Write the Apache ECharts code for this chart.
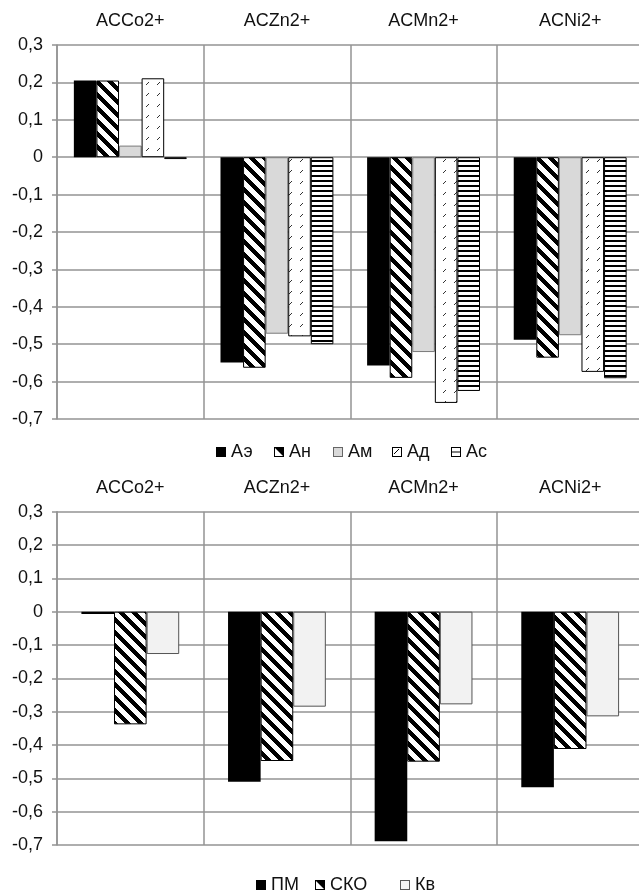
<!DOCTYPE html>
<html>
<head>
<meta charset="utf-8">
<script src="https://cdn.jsdelivr.net/npm/echarts@6/dist/echarts.min.js"></script>
<style>
html,body{margin:0;padding:0;background:#fff;overflow:hidden;}
#c{width:644px;height:894px;}
</style>
</head>
<body>
<div id="c"></div>
<script>
// ---- data ----
var categories = ['ACCo2+', 'ACZn2+', 'ACMn2+', 'ACNi2+'];
var topNames = ['Аэ', 'Ан', 'Ам', 'Ад', 'Ас'];
var aE = [0.205, -0.549, -0.557, -0.488];
var aN = [0.205, -0.563, -0.590, -0.536];
var aM = [0.031, -0.472, -0.521, -0.476];
var aD = [0.211, -0.479, -0.657, -0.574];
var aS = [-0.005, -0.500, -0.625, -0.591];
var bottomNames = ['ПМ', 'СКО', 'Кв'];
var pm = [-0.007, -0.510, -0.689, -0.527];
var sko = [-0.338, -0.448, -0.450, -0.412];
var kv = [-0.127, -0.285, -0.278, -0.314];
var yMin = -0.7, yMax = 0.3, yStep = 0.1;

// ---- patterns ----
function tile(w, h, fn) {
  var c = document.createElement('canvas');
  c.width = w; c.height = h;
  fn(c.getContext('2d'), w, h);
  return c;
}
function pixTile(w, h, test) {
  return tile(w, h, function (ctx) {
    var img = ctx.createImageData(w, h);
    for (var y = 0; y < h; y++) for (var x = 0; x < w; x++) {
      var i = (y * w + x) * 4, b = test(x, y);
      img.data[i] = img.data[i + 1] = img.data[i + 2] = b ? 0 : 255;
      img.data[i + 3] = 255;
    }
    ctx.putImageData(img, 0, 0);
  });
}
var T = 13;
var diagTile = pixTile(T, T, function (x, y) { return (((x - y) % T) + T) % T < 6; });
var hTile = pixTile(4, 5, function (x, y) { return y < 2; });
var dashTile = tile(11, 11, function (ctx) {
  ctx.fillStyle = '#fff'; ctx.fillRect(0, 0, 11, 11);
  ctx.strokeStyle = '#333'; ctx.lineWidth = 1;
  ctx.beginPath(); ctx.moveTo(3, 8); ctx.lineTo(6, 5); ctx.stroke();
});
function pat(c) { return { image: c, repeat: 'repeat' }; }

// ---- legend icons ----
function icon(fn) {
  var c = tile(10, 10, function (ctx) { fn(ctx); });
  return 'image://' + c.toDataURL();
}
var icBlack = icon(function (ctx) { ctx.fillStyle = '#000'; ctx.fillRect(0, 0, 10, 10); });
var icDiag = icon(function (ctx) {
  ctx.fillStyle = '#fff'; ctx.fillRect(0, 0, 10, 10);
  ctx.fillStyle = '#000';
  ctx.beginPath(); ctx.moveTo(1, 1); ctx.lineTo(9, 1); ctx.lineTo(9, 9); ctx.closePath(); ctx.fill();
  ctx.strokeStyle = '#000'; ctx.lineWidth = 1; ctx.strokeRect(0.5, 0.5, 9, 9);
});
var icGray = icon(function (ctx) {
  ctx.fillStyle = '#d9d9d9'; ctx.fillRect(0, 0, 10, 10);
  ctx.strokeStyle = '#666'; ctx.lineWidth = 1; ctx.strokeRect(0.5, 0.5, 9, 9);
});
var icDash = icon(function (ctx) {
  ctx.fillStyle = '#fff'; ctx.fillRect(0, 0, 10, 10);
  ctx.strokeStyle = '#000'; ctx.lineWidth = 1; ctx.strokeRect(0.5, 0.5, 9, 9);
  ctx.beginPath(); ctx.moveTo(2, 7); ctx.lineTo(7, 2); ctx.stroke();
});
var icH = icon(function (ctx) {
  ctx.fillStyle = '#fff'; ctx.fillRect(0, 0, 10, 10);
  ctx.strokeStyle = '#000'; ctx.lineWidth = 1; ctx.strokeRect(0.5, 0.5, 9, 9);
  ctx.beginPath(); ctx.moveTo(1, 5); ctx.lineTo(9, 5); ctx.stroke();
});
var icLight = icon(function (ctx) {
  ctx.fillStyle = '#f2f2f2'; ctx.fillRect(0, 0, 10, 10);
  ctx.strokeStyle = '#555'; ctx.lineWidth = 1; ctx.strokeRect(0.5, 0.5, 9, 9);
});

var FONT = '"Liberation Sans", Arial, sans-serif';
var GRID = '#939393';

function fmt(v) {
  var r = Math.round(v * 10) / 10;
  return r === 0 ? '0' : r.toFixed(1).replace('.', ',');
}
function xAx(gi) {
  return {
    type: 'category', gridIndex: gi, data: categories, position: 'top',
    axisLine: { show: false, onZero: false }, axisTick: { show: false },
    axisLabel: { color: '#111', fontSize: 18, fontFamily: FONT, margin: 15 },
    splitLine: { show: true, lineStyle: { color: GRID, width: 1.5 } }
  };
}
function yAx(gi) {
  return {
    type: 'value', gridIndex: gi, min: yMin, max: yMax, interval: yStep,
    axisLine: { show: true, lineStyle: { color: GRID, width: 1.5 } },
    axisTick: { show: true, length: 5, lineStyle: { color: GRID, width: 1.5 } },
    axisLabel: { color: '#111', fontSize: 18, fontFamily: FONT, margin: 14, formatter: fmt },
    splitLine: { show: true, lineStyle: { color: GRID, width: 1.5 } }
  };
}
function bar(name, data, gi, fill, border, gap) {
  return {
    type: 'bar', name: name, data: data, xAxisIndex: gi, yAxisIndex: gi,
    barGap: '0%', barCategoryGap: gap, animation: false,
    itemStyle: { color: fill, borderColor: border, borderWidth: border ? 1 : 0 },
    emphasis: { disabled: true }
  };
}
function leg(name, ic, left, top) {
  return {
    data: [{ name: name, icon: ic }], left: left, top: top, padding: 0,
    itemWidth: 10, itemHeight: 10, selectedMode: false,
    textStyle: { color: '#111', fontSize: 18, fontFamily: FONT, lineHeight: 18 }
  };
}

var topGap = '23%', botGap = '33.3%';
var option = {
  animation: false,
  backgroundColor: '#fff',
  grid: [
    { left: 57, top: 45, width: 586.5, height: 374 },
    { left: 57, top: 511.7, width: 586.5, height: 333.3 }
  ],
  xAxis: [xAx(0), xAx(1)],
  yAxis: [yAx(0), yAx(1)],
  legend: [
    leg('Аэ', icBlack, 216, 443),
    leg('Ан', icDiag, 274, 443),
    leg('Ам', icGray, 333, 443),
    leg('Ад', icDash, 392, 443),
    leg('Ас', icH, 451, 443),
    leg('ПМ', icBlack, 256, 876),
    leg('СКО', icDiag, 315, 876),
    leg('Кв', icLight, 400, 876)
  ],
  series: [
    bar('Аэ', aE, 0, '#000', null, topGap),
    bar('Ан', aN, 0, pat(diagTile), '#000', topGap),
    bar('Ам', aM, 0, '#d9d9d9', '#7a7a7a', topGap),
    bar('Ад', aD, 0, pat(dashTile), '#000', topGap),
    bar('Ас', aS, 0, pat(hTile), '#000', topGap),
    bar('ПМ', pm, 1, '#000', null, botGap),
    bar('СКО', sko, 1, pat(diagTile), '#000', botGap),
    bar('Кв', kv, 1, '#f2f2f2', '#555', botGap)
  ]
};
var chart = echarts.init(document.getElementById('c'), null, { renderer: 'canvas' });
chart.setOption(option);
</script>
</body>
</html>
